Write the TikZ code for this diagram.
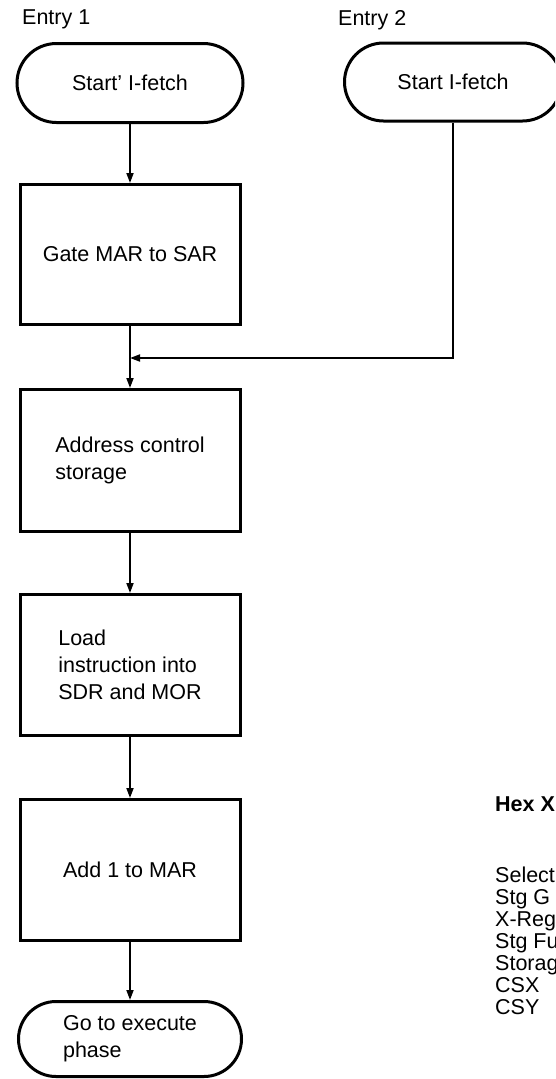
\documentclass[tikz,border=0pt]{standalone}
\usepackage{fontspec}
\setmainfont{Liberation Sans}
\usetikzlibrary{arrows.meta}
\begin{document}
\begin{tikzpicture}[x=1pt,y=-1pt,
  font=\fontsize{21.5}{27}\selectfont,
  box/.style={draw,line width=3pt,minimum width=220pt,align=left,inner sep=0pt},
  term/.style={draw,line width=3pt,align=left,inner sep=0pt},
  flow/.style={line width=1.8pt,-{Triangle[length=10pt,width=7pt]}},
  lbl/.style={anchor=base west,inner sep=0pt},
]
\useasboundingbox (0,0) rectangle (555,1079);
\clip (0,0) rectangle (555,1079);

\node[lbl] (e1) at (22,24) {Entry 1};
\node[lbl] (e2) at (338,25) {Entry 2};

\node[term,minimum width=226pt,minimum height=79pt,rounded corners=39.5pt] (t1) at (130,83) {Start' I-fetch};
\node[term,minimum width=217pt,minimum height=78pt,rounded corners=39pt] (t2) at (453,82) {Start I-fetch};

\node[box,minimum height=140pt] (gate) at (130,254.5) {Gate MAR to SAR};
\node[box,minimum height=142pt] (addr) at (130,460.5) {Address control\\storage};
\node[box,minimum height=141pt] (load) at (130,665) {Load\\instruction into\\SDR and MOR};
\node[box,minimum height=141pt] (add) at (130,870) {Add 1 to MAR};
\node[term,minimum width=223pt,minimum height=75pt,rounded corners=37.5pt] (go) at (130,1039) {Go to execute\\phase};

\coordinate (j) at (130,358);

\draw[flow] (t1.south) -- (gate.north);
\draw[line width=1.8pt] (gate.south) -- (j);
\draw[flow] (j) -- (addr.north);
\draw[flow] (t2.south) |- (j);
\draw[flow] (addr.south) -- (load.north);
\draw[flow] (load.south) -- (add.north);
\draw[flow] (add.south) -- (go.north);

\node[lbl,font=\fontsize{21.5}{27}\selectfont\bfseries] (hex) at (495,811) {Hex X};
\node[lbl] (r1) at (495,882) {Select};
\node[lbl] (r2) at (495,904) {Stg G};
\node[lbl] (r3) at (495,926) {X-Reg};
\node[lbl] (r4) at (495,948) {Stg Fu};
\node[lbl] (r5) at (495,970) {Storag};
\node[lbl] (r6) at (495,992) {CSX};
\node[lbl] (r7) at (495,1014) {CSY};
\end{tikzpicture}
\end{document}
